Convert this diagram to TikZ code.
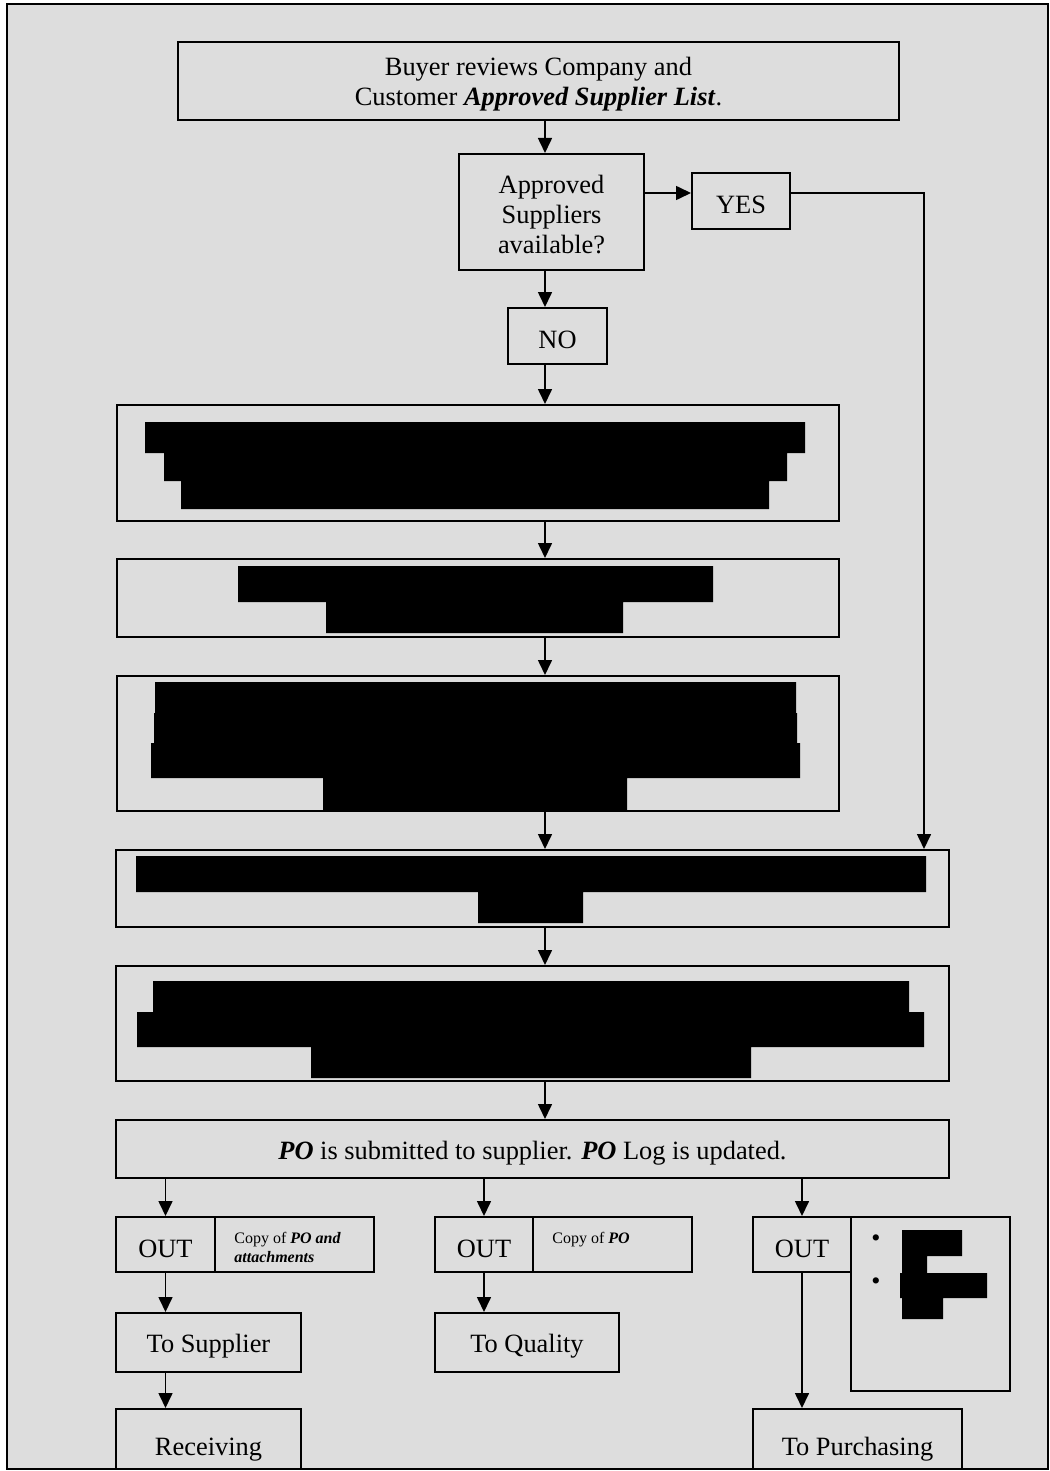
\documentclass[tikz,border=0pt]{standalone}
\usepackage{fontspec}
\setmainfont{Liberation Serif}
\usetikzlibrary{positioning, arrows.meta}
\definecolor{panel}{HTML}{DDDDDD}

\tikzset{
  stepbox/.style={draw, line width=1pt, inner sep=0pt, align=center,
    font=\fontsize{13.2}{15}\selectfont},
  oneline/.style={stepbox, text height=13pt},
  flow/.style={-{Triangle[length=7.5pt, width=7pt]}, line width=0.8pt},
  redact/.style={fill=black},
  notetext/.style={inner sep=0pt, align=left, font=\fontsize{8}{9.5}\selectfont}
}

\begin{document}
\begin{tikzpicture}[x=0.5pt, y=-0.5pt]
  \useasboundingbox (0,0) rectangle (1049,1471);
  \fill[panel] (7,4) rectangle (1048,1469);
  \begin{scope}
  \clip (7,4) rectangle (1048,1469);
  % columns and rows the connectors run on
  \coordinate (spine) at (545,0);
  \coordinate (yesrow) at (0,193);
  \coordinate (feed) at (924,0);

  \node[stepbox, minimum width=360.5pt, minimum height=39pt] (review) at (538.5,81)
    {\rule{0pt}{12pt}Buyer reviews Company and\\Customer \textbf{\textit{Approved Supplier List}}.};
  \node[stepbox, minimum width=92.5pt, minimum height=58pt] (avail) at (551.5,212)
    {\rule{0pt}{12pt}Approved\\Suppliers\\available?};
  \node[oneline, minimum width=49pt, minimum height=28pt] (yes) at (741,201) {YES};
  \node[oneline, minimum width=49.5pt, minimum height=28pt] (no) at (557.5,336) {NO};
  \node[stepbox, minimum width=361pt, minimum height=58pt] (search) at (478,463) {};
  \node[stepbox, minimum width=361pt, minimum height=39pt] (survey) at (478,598) {};
  \node[stepbox, minimum width=361pt, minimum height=67.5pt] (approve) at (478,743.5) {};
  \node[stepbox, minimum width=416.5pt, minimum height=38.5pt] (select) at (532.5,888.5) {};
  \node[stepbox, minimum width=416.5pt, minimum height=57.5pt] (prepare) at (532.5,1023.5) {};
  \node[oneline, minimum width=416.5pt, minimum height=29pt] (submit) at (532.5,1149)
    {\textbf{\textit{PO}} is submitted to supplier. \textbf{\textit{PO}} Log is updated.};

  % outputs of the PO
  \node[oneline, minimum width=49.5pt, minimum height=27.5pt] (out1) at (165.5,1244.5) {OUT};
  \node[stepbox, minimum width=79.5pt, minimum height=27.5pt] (copy1) at (294.5,1244.5) {};
  \node[oneline, minimum width=49pt, minimum height=27.5pt] (out2) at (484,1244.5) {OUT};
  \node[stepbox, minimum width=79.5pt, minimum height=27.5pt] (copy2) at (612.5,1244.5) {};
  \node[oneline, minimum width=49pt, minimum height=27.5pt] (out3) at (802,1244.5) {OUT};
  \node[stepbox, minimum width=79.5pt, minimum height=87pt] (copy3) at (930.5,1304) {};
  \node[notetext, below right=8pt and 10pt of copy1.north west]
    (note1) {Copy of \textbf{\textit{PO and}}\\\textbf{\textit{attachments}}};
  \node[notetext, below right=8pt and 10pt of copy2.north west]
    (note2) {Copy of \textbf{\textit{PO}}};
  \node[notetext, font=\fontsize{13}{15}\selectfont] (dot1) at (876,1241) {\textbullet};
  \node[notetext, font=\fontsize{13}{15}\selectfont] (dot2) at (876,1284) {\textbullet};

  \node[oneline, minimum width=92.5pt, minimum height=29.5pt] (tosup) at (208.5,1342.5) {To Supplier};
  \node[oneline, minimum width=92pt, minimum height=29.5pt] (toqual) at (527,1342.5) {To Quality};
  \node[oneline, minimum width=92.5pt, minimum height=36pt] (recv) at (208.5,1445) {Receiving};
  \node[oneline, minimum width=104.5pt, minimum height=36pt] (topurch) at (857.5,1445) {To Purchasing};

  % blacked out text
  \fill[redact] (145,422) rectangle (805,453) (164,453) rectangle (787,481)
    (181,481) rectangle (769,509);
  \fill[redact] (238,566) rectangle (713,602) (326,602) rectangle (623,633);
  \fill[redact] (155,682) rectangle (796,713) (154,713) rectangle (797,743)
    (151,743) rectangle (800,778) (323,778) rectangle (627,811);
  \fill[redact] (136,856) rectangle (926,892) (478,892) rectangle (583,923);
  \fill[redact] (153,981) rectangle (909,1012) (137,1012) rectangle (924,1047)
    (311,1047) rectangle (751,1078);
  \fill[redact] (902,1230) rectangle (962,1256) (902,1255) rectangle (927,1274)
    (900,1273) rectangle (987,1298) (902,1297) rectangle (943,1319);

  % connectors
  \draw[flow] (review.south -| spine) -- (avail.north -| spine);
  \draw[flow] (avail.east |- yesrow) -- (yes.west |- yesrow);
  \draw[flow] (yes.east |- yesrow) -| (select.north -| feed);
  \draw[flow] (avail.south -| spine) -- (no.north -| spine);
  \draw[flow] (no.south -| spine) -- (search.north -| spine);
  \draw[flow] (search.south -| spine) -- (survey.north -| spine);
  \draw[flow] (survey.south -| spine) -- (approve.north -| spine);
  \draw[flow] (approve.south -| spine) -- (select.north -| spine);
  \draw[flow] (select.south -| spine) -- (prepare.north -| spine);
  \draw[flow] (prepare.south -| spine) -- (submit.north -| spine);
  \draw[flow] (submit.south -| out1.north) -- (out1.north);
  \draw[flow] (submit.south -| out2.north) -- (out2.north);
  \draw[flow] (submit.south -| out3.north) -- (out3.north);
  \draw[flow] (out1.south) -- (out1.south |- tosup.north);
  \draw[flow] (tosup.south -| out1.south) -- (recv.north -| out1.south);
  \draw[flow] (out2.south) -- (out2.south |- toqual.north);
  \draw[flow] (out3.south) -- (out3.south |- topurch.north);
  \end{scope}
  \draw[line width=1.15pt] (7,4) rectangle (1048,1469);
\end{tikzpicture}
\end{document}
